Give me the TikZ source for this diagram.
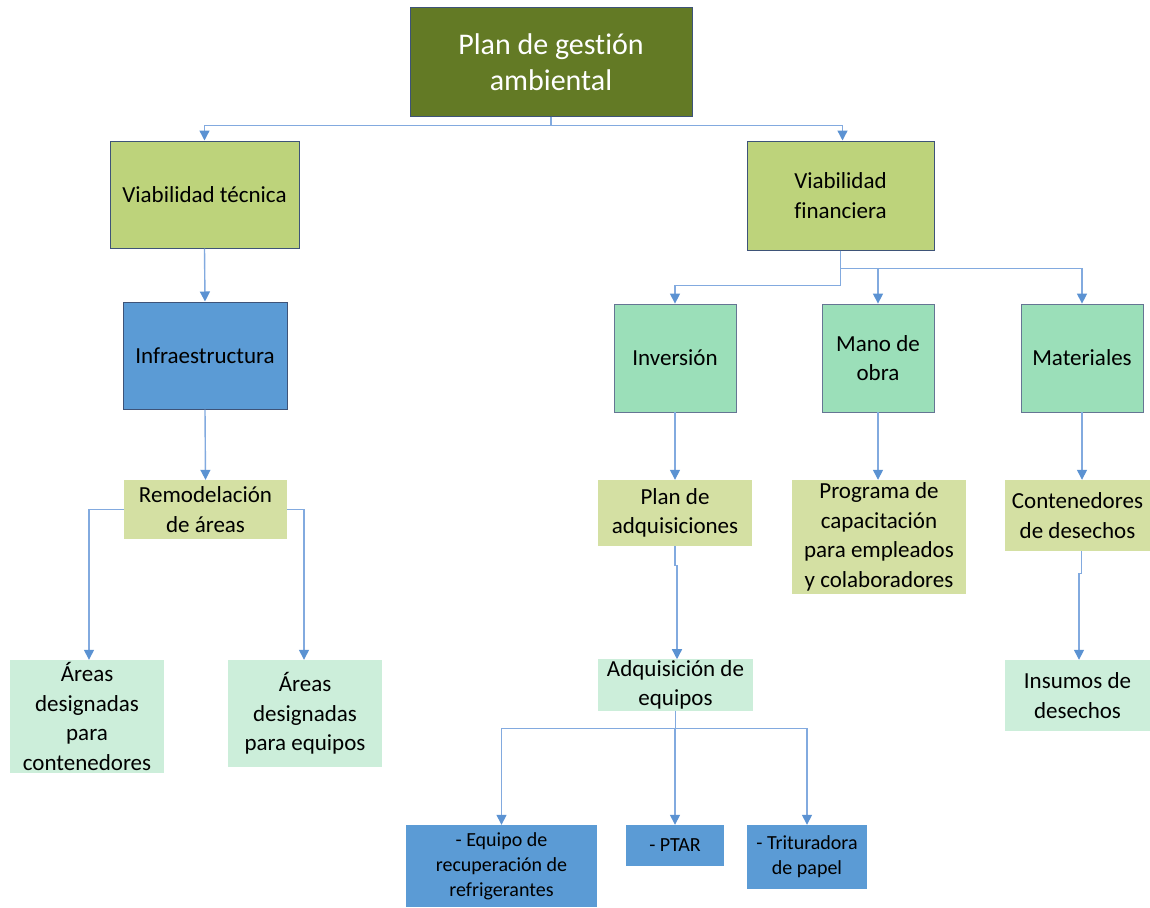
\documentclass[tikz,border=0pt]{standalone}
\usepackage{fontspec}
\setmainfont{Carlito}[Ligatures=NoCommon]
\usetikzlibrary{arrows.meta}
\definecolor{olive}{HTML}{637A25}
\definecolor{vgreen}{HTML}{BDD37B}
\definecolor{bblue}{HTML}{5B9BD5}
\definecolor{mint}{HTML}{9BDFB9}
\definecolor{lgreen}{HTML}{D4E0A3}
\definecolor{pale}{HTML}{CCEEDA}
\definecolor{navy}{HTML}{3E5378}
\definecolor{conn}{HTML}{82AADF}
\definecolor{tip}{HTML}{5B92D2}
\begin{document}
\begin{tikzpicture}[x=1pt,y=-1pt,
  box/.style={rectangle,inner sep=1pt,align=center,text=black,
    font=\fontsize{23}{29.5}\selectfont},
  topbox/.style={box,fill=olive,draw=navy,line width=1pt,text=white,
    font=\fontsize{30}{36}\selectfont},
  vbox/.style={box,fill=vgreen,draw=navy,line width=1pt},
  ibox/.style={box,fill=bblue,draw=navy,line width=1pt},
  mbox/.style={box,fill=mint,draw=navy!80,line width=0.8pt},
  lbox/.style={box,fill=lgreen},
  pbox/.style={box,fill=pale},
  sbox/.style={box,fill=bblue,font=\fontsize{20}{25}\selectfont},
  arr/.style={draw=conn,line width=1.4pt,-{Triangle[width=10pt,length=10pt,color=tip]}}
]
\useasboundingbox (0,0) rectangle (1150,907);

\node[topbox,minimum width=282pt,minimum height=108pt] (top) at (551,62) {Plan de gestión\\ambiental};

\node[vbox,minimum width=189pt,minimum height=107pt] (vt) at (204.5,194.5) {Viabilidad técnica};
\node[vbox,minimum width=187pt,minimum height=109pt] (vf) at (840.5,195.5) {Viabilidad\\financiera};

\node[ibox,minimum width=164pt,minimum height=107pt] (infra) at (205,355.5) {Infraestructura};

\node[lbox,minimum width=163pt,minimum height=59pt] (remo) at (205.5,509.5) {Remodelación\\de áreas};

\node[pbox,minimum width=154pt,minimum height=113pt] (a1) at (87,716.5) {Áreas\\designadas\\para\\contenedores};
\node[pbox,minimum width=154pt,minimum height=107pt] (a2) at (305,713.5) {Áreas\\designadas\\para equipos};

\node[mbox,minimum width=122pt,minimum height=108pt] (inv) at (675,358) {Inversión};
\node[mbox,minimum width=112pt,minimum height=108pt] (mano) at (878,358) {Mano de\\obra};
\node[mbox,minimum width=122pt,minimum height=108pt] (mat) at (1082,358) {Materiales};

\node[lbox,minimum width=154pt,minimum height=66pt] (pa) at (675,513) {Plan de\\adquisiciones};
\node[lbox,minimum width=174pt,minimum height=114pt] (prog) at (879,537) {Programa de\\capacitación\\para empleados\\y colaboradores};
\node[lbox,minimum width=145pt,minimum height=71pt] (cont) at (1077.5,515.5) {Contenedores\\de desechos};

\node[pbox,minimum width=155pt,minimum height=50pt] (ad) at (675.5,685) {Adquisición de\\equipos};
\node[pbox,minimum width=145pt,minimum height=71pt] (ins) at (1077.5,695.5) {Insumos de\\desechos};

\node[sbox,minimum width=191pt,minimum height=82pt] (e1) at (501.5,866) {- Equipo de\\recuperación de\\refrigerantes};
\node[sbox,minimum width=98pt,minimum height=41pt] (ptar) at (675,845.5) {- PTAR};
\node[sbox,minimum width=120pt,minimum height=64pt] (tri) at (807,857) {- Trituradora\\de papel};

% connectors
\draw[arr] (top.south) -- ++(0,9) -| (vt.north);
\draw[arr] (top.south) -- ++(0,9) -| ([xshift=2pt]vf.north);
\draw[arr] (vt.south) -- (infra.north);
\draw[arr] (infra.south) -- (remo.north);
\draw[arr] (remo.west) -| ([xshift=2pt]a1.north);
\draw[arr] (remo.east) -| ([xshift=-1pt]a2.north);

\draw[arr] (vf.south) -- ++(0,18) -| (mano.north);
\draw[arr] (vf.south) -- ++(0,18) -| (mat.north);
\draw[arr] (vf.south) -- ++(0,35) -| (inv.north);

\draw[arr] (inv.south) -- (pa.north);
\draw[arr] (mano.south) -- (mano.south |- prog.north);
\draw[arr] (mat.south) -- (mat.south |- cont.north);

\draw[arr] (pa.south) -- ++(0,19) -| ([xshift=1.5pt]ad.north);
\draw[arr] ([xshift=4pt]cont.south) -- ++(0,22) -| ([xshift=1.5pt]ins.north);

\draw[arr] (ad.south) -- ++(0,18) -| (e1.north);
\draw[arr] (ad.south) -- ++(0,18) -| (ptar.north);
\draw[arr] (ad.south) -- ++(0,18) -| (tri.north);
\end{tikzpicture}
\end{document}
